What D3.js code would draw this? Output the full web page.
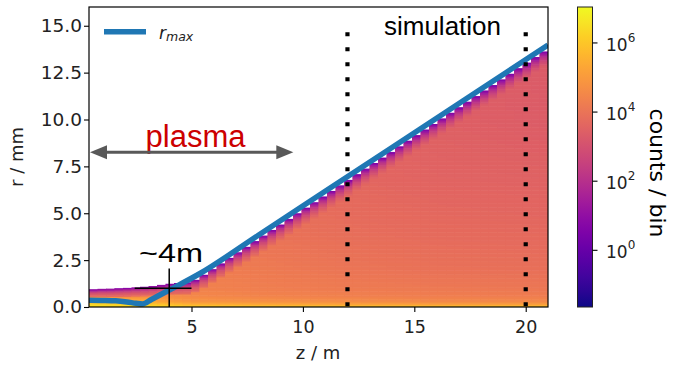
<!DOCTYPE html>
<html><head><meta charset="utf-8">
<script src="https://cdn.jsdelivr.net/npm/d3@7"></script>
<style>body{margin:0;background:#fff} svg{display:block}</style>
</head><body><svg id="c" width="683" height="368"></svg>
<script>
// ---------- data ----------
const zTicks = [5, 10, 15, 20];
const rTicks = [0, 2.5, 5, 7.5, 10, 12.5, 15];
const cbTickExp = [0, 2, 4, 6];
// r_max curve
const rmaxZ = [0.4, 1.0, 1.6, 2.1, 2.5, 2.8, 3.2, 4.0, 5.4, 8, 11, 14, 17.5, 21];
const rmaxR = [0.36, 0.35, 0.33, 0.27, 0.2, 0.16, 0.4, 0.9, 1.8, 3.83, 6.17, 8.51, 11.24, 13.97];
// histogram: top radius (mm) of each z column
const colTop = [0.95,0.97,0.98,1.0,1.02,1.05,1.08,1.12,1.18,1.24,1.28,1.32,1.45,1.72,2.02,2.32,2.62,2.92,3.21,3.51,
  3.81,4.11,4.40,4.70,5.00,5.30,5.59,5.89,6.19,6.49,6.78,7.08,7.38,7.68,7.97,8.27,8.57,8.87,9.17,9.46,
  9.76,10.06,10.36,10.65,10.95,11.25,11.55,11.84,12.14,12.44,12.74,13.03,13.33,13.63];
// log10(counts/bin) read at sample z (m) and r (mm)
const zSamp = [0.4, 2.8, 5, 8, 12, 16, 21];
const rSamp = [0, 0.15, 0.3, 0.6, 1, 2, 4, 7, 10, 14];
const logGrid = [
  [6.7, 6.4, 5.9, 4.6, 4.2, 4.0, 4.0, 4.0, 4.0, 4.0],
  [6.6, 6.2, 5.5, 4.8, 4.4, 4.3, 4.2, 4.2, 4.2, 4.2],
  [6.4, 5.6, 4.9, 4.55, 4.4, 4.3, 4.15, 4.0, 3.9, 3.8],
  [6.3, 5.4, 4.8, 4.45, 4.3, 4.2, 4.0, 3.85, 3.7, 3.6],
  [6.2, 5.3, 4.7, 4.35, 4.2, 4.05, 3.85, 3.65, 3.55, 3.5],
  [6.2, 5.2, 4.6, 4.3, 4.15, 3.95, 3.75, 3.55, 3.45, 3.4],
  [6.1, 5.2, 4.6, 4.25, 4.1, 3.9, 3.7, 3.5, 3.35, 3.3]
];
// fall-off near the upper edge of each column: depth below column top (mm) -> log10 counts
const capDepth = [0, 0.1, 0.25, 0.45, 0.7, 1.0, 1.6];
const capLog = [0.5, 1.2, 2.0, 2.7, 3.3, 3.8, 9];
const capScaleZ = [0.35, 0.45, 0.6, 0.75, 0.9, 1.0, 1.1];
const markerZ = [12, 20];
const crossH = {z: [2.45, 5.0], r: [1.0, 1.0]};
const crossV = {z: [4.0, 4.0], r: [0, 2.05]};
const logMin = -1.64, logMax = 7.04;

// ---------- drawing ----------
const svg = d3.select("#c");
const x = d3.scaleLinear().domain([0.4, 21]).range([89, 548]);
const y = d3.scaleLinear().domain([0, 16]).range([307, 7]);
const col = v => d3.interpolatePlasma((v - logMin) / (logMax - logMin));
const FONT = "DejaVu Sans, sans-serif";

const rowScales = logGrid.map(row => d3.scaleLinear().domain(rSamp).range(row).clamp(true));
const zIdx = d3.scaleLinear().domain(zSamp).range(zSamp.map((_, i) => i)).clamp(true);
function gridLog(z, r) {
  const f = zIdx(z), i0 = Math.floor(f), i1 = Math.min(i0 + 1, zSamp.length - 1), t = f - i0;
  return rowScales[i0](r) * (1 - t) + rowScales[i1](r) * t;
}
const capS = d3.scaleLinear().domain(capDepth).range(capLog).clamp(true);
const capScale = d3.scaleLinear().domain(zSamp).range(capScaleZ).clamp(true);

const bw = (21 - 0.4) / colTop.length;
const dr = 0.07;
const cells = [];
colTop.forEach((top, i) => {
  const z0 = 0.4 + i * bw, z1 = z0 + bw, zc = (z0 + z1) / 2;
  for (let r = 0; r < top - 1e-6; r += dr) {
    const r1 = Math.min(r + dr, top), rc = (r + r1) / 2;
    const v = Math.min(gridLog(zc, rc), capS((top - rc) / capScale(zc)));
    cells.push({z0, z1, r0: r, r1, v});
  }
});
const clip = svg.append("clipPath").attr("id", "pa").append("rect")
  .attr("x", 89).attr("y", 7).attr("width", 459).attr("height", 300);
const gHeat = svg.append("g").attr("clip-path", "url(#pa)");
gHeat.selectAll("rect").data(cells).join("rect")
  .attr("x", d => x(d.z0)).attr("y", d => y(d.r1))
  .attr("width", d => x(d.z1) - x(d.z0) + 0.6)
  .attr("height", d => y(d.r0) - y(d.r1) + 0.6)
  .attr("fill", d => col(d.v));

// r_max line
const lineGen = d3.line().x(d => x(d[0])).y(d => y(d[1])).curve(d3.curveMonotoneX);
svg.append("g").attr("clip-path", "url(#pa)").append("path")
  .attr("d", lineGen(rmaxZ.map((z, i) => [z, rmaxR[i]])))
  .attr("fill", "none").attr("stroke", "#1f77b4").attr("stroke-width", 5.5);

// dotted markers
markerZ.forEach(z => {
  svg.append("line").attr("x1", x(z)).attr("x2", x(z))
    .attr("y1", 306.3).attr("y2", 32.3)
    .attr("stroke", "#000").attr("stroke-width", 4.2).attr("stroke-dasharray", "4,11");
});

// crosshair
[crossH, crossV].forEach(c => {
  svg.append("line").attr("x1", x(c.z[0])).attr("x2", x(c.z[1]))
    .attr("y1", y(c.r[0])).attr("y2", y(c.r[1]))
    .attr("stroke", "#000").attr("stroke-width", 1.5);
});

// frame
svg.append("rect").attr("x", 89).attr("y", 7).attr("width", 459).attr("height", 300)
  .attr("fill", "none").attr("stroke", "#000").attr("stroke-width", 1.2);

// axes
const xAxis = svg.append("g").attr("transform", "translate(0,307)")
  .call(d3.axisBottom(x).tickValues(zTicks).tickSize(5).tickPadding(4).tickFormat(d3.format("d")));
const yAxis = svg.append("g").attr("transform", "translate(89,0)")
  .call(d3.axisLeft(y).tickValues(rTicks).tickSize(5).tickPadding(2).tickFormat(d3.format(".1f")));
[xAxis, yAxis].forEach(a => {
  a.select(".domain").remove();
  a.selectAll(".tick line").attr("stroke", "#000").attr("stroke-width", 1.1);
  a.selectAll(".tick text").attr("font-family", FONT).attr("font-size", 17.5).attr("fill", "#222");
});
yAxis.selectAll(".tick text").attr("font-size", 18.5);
xAxis.selectAll(".tick text").attr("dy", "0.95em");
svg.append("text").attr("x", 318).attr("y", 359).attr("text-anchor", "middle")
  .attr("font-family", FONT).attr("font-size", 18).attr("fill", "#222").text("z / m");
svg.append("text").attr("transform", "translate(23,157) rotate(-90)").attr("text-anchor", "middle")
  .attr("font-family", FONT).attr("font-size", 18).attr("fill", "#222").text("r / mm");

// legend
svg.append("line").attr("x1", 104).attr("x2", 146).attr("y1", 31.7).attr("y2", 31.7)
  .attr("stroke", "#1f77b4").attr("stroke-width", 5.5);
const lt = svg.append("text").attr("x", 159).attr("y", 38.5).attr("font-family", FONT)
  .attr("font-style", "italic").attr("fill", "#222").attr("font-size", 17);
lt.append("tspan").text("r");
lt.append("tspan").attr("font-size", 12.5).attr("dy", 2.5).text("max");

// annotations
svg.append("text").attr("x", 442.5).attr("y", 34.5).attr("text-anchor", "middle")
  .attr("font-family", "Liberation Sans, Arial, sans-serif").attr("font-size", 26).attr("fill", "#000").text("simulation");
svg.append("text").attr("x", 195.5).attr("y", 146.5).attr("text-anchor", "middle")
  .attr("font-family", "Liberation Sans, Arial, sans-serif").attr("font-size", 31).attr("fill", "#cc0000").text("plasma");
svg.append("text").attr("x", 139).attr("y", 261.5)
  .attr("font-family", "Liberation Sans, Arial, sans-serif").attr("font-size", 25)
  .attr("textLength", 64).attr("lengthAdjust", "spacingAndGlyphs").attr("fill", "#000").text("~4m");
// double arrow
svg.append("line").attr("x1", 104).attr("x2", 279).attr("y1", 152.3).attr("y2", 152.3)
  .attr("stroke", "#595959").attr("stroke-width", 3);
svg.append("path").attr("d", "M90,152.3 L107,145.3 L107,159.3 Z").attr("fill", "#595959");
svg.append("path").attr("d", "M293.3,152.3 L276.3,145.3 L276.3,159.3 Z").attr("fill", "#595959");

// colorbar
const yc = d3.scaleLinear().domain([logMin, logMax]).range([307, 7]);
const defs = svg.append("defs");
const grad = defs.append("linearGradient").attr("id", "cbg").attr("x1", 0).attr("x2", 0).attr("y1", 1).attr("y2", 0);
d3.range(0, 1.0001, 0.05).forEach(t => grad.append("stop").attr("offset", t).attr("stop-color", d3.interpolatePlasma(t)));
svg.append("rect").attr("x", 577.5).attr("y", 7).attr("width", 15).attr("height", 300)
  .attr("fill", "url(#cbg)").attr("stroke", "#222").attr("stroke-width", 1);
const cb = svg.append("g");
cbTickExp.forEach(e => {
  const yy = yc(e);
  cb.append("line").attr("x1", 592.5).attr("x2", 597.5).attr("y1", yy).attr("y2", yy)
    .attr("stroke", "#000").attr("stroke-width", 1.1);
  const t = cb.append("text").attr("x", 606).attr("y", yy + 8).attr("font-family", FONT)
    .attr("font-size", 17).attr("fill", "#222");
  t.append("tspan").text("10");
  t.append("tspan").attr("font-size", 12).attr("dy", -9).text(e);
});
svg.append("text").attr("transform", "translate(650,173) rotate(90)").attr("text-anchor", "middle")
  .attr("font-family", FONT).attr("font-size", 22).attr("fill", "#000").text("counts / bin");
</script></body></html>
